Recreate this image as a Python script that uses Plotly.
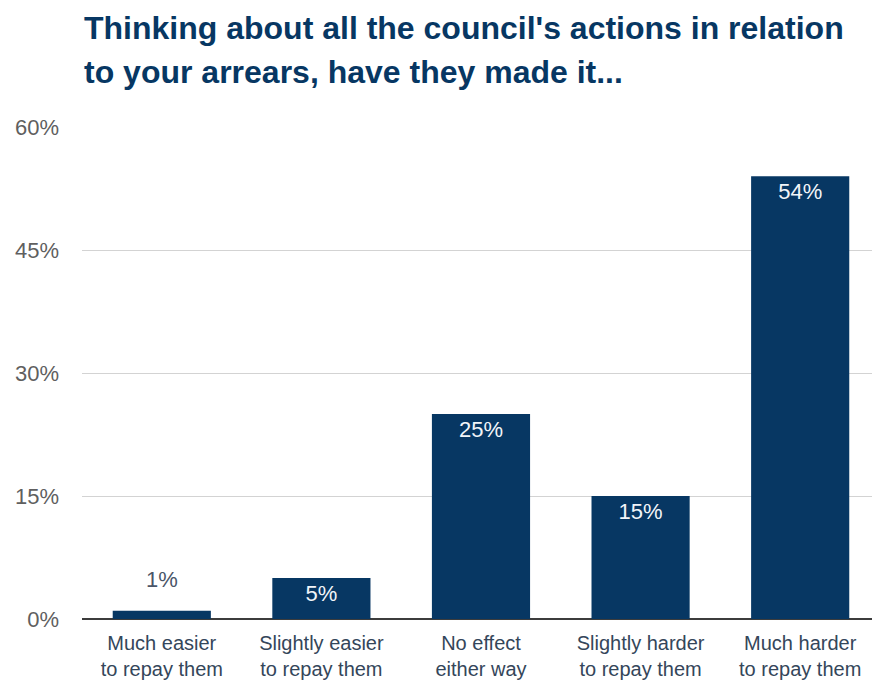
import plotly.graph_objects as go

categories = [
    "Much easier<br>to repay them",
    "Slightly easier<br>to repay them",
    "No effect<br>either way",
    "Slightly harder<br>to repay them",
    "Much harder<br>to repay them",
]
shares = [1, 5, 25, 15, 54]
y_ticks = [0, 15, 30, 45, 60]
title_lines = [
    "Thinking about all the council's actions in relation",
    "to your arrears, have they made it...",
]

NAVY = "#073763"
FONT = "Liberation Sans, Arial, sans-serif"

W, H = 872, 683
M_L, M_R, M_T, M_B = 82, 0, 127, 64
plot_h = H - M_T - M_B

# bars tall enough take their label inside, small ones get it above
inside = [v >= 3 for v in shares]

fig = go.Figure(
    go.Bar(
        x=list(range(len(categories))),
        y=shares,
        width=0.615,
        marker=dict(color=NAVY, line=dict(width=0)),
        text=[f"{v}%" if ins else "" for v, ins in zip(shares, inside)],
        textposition="inside",
        insidetextanchor="end",
        textangle=0,
        constraintext="none",
        insidetextfont=dict(color="#f2f5f9", size=22, family=FONT),
        hoverinfo="skip",
    )
)

for i, (v, ins) in enumerate(zip(shares, inside)):
    if not ins:
        fig.add_annotation(
            x=i, y=v, xref="x", yref="y",
            text=f"{v}%", showarrow=False,
            yanchor="bottom", yshift=17,
            font=dict(color="#4a5568", size=22, family=FONT),
        )

def px_to_paper(py):
    return (H - M_B - py) / plot_h

for line, py in zip(title_lines, [28, 72]):
    fig.add_annotation(
        x=0, y=px_to_paper(py), xref="paper", yref="paper",
        xanchor="left", yanchor="middle", showarrow=False,
        text=f"<b>{line}</b>",
        font=dict(color=NAVY, size=32, family=FONT),
    )

fig.update_layout(
    width=W, height=H,
    margin=dict(l=M_L, r=M_R, t=M_T, b=M_B, pad=0, autoexpand=False),
    paper_bgcolor="white",
    plot_bgcolor="white",
    showlegend=False,
    font=dict(family=FONT),
)

fig.update_xaxes(
    range=[-0.5, 4.45],
    tickmode="array",
    tickvals=list(range(len(categories))),
    ticktext=categories,
    tickfont=dict(size=20, color="#34465a", family=FONT),
    showgrid=False,
    showline=False,
    ticks="",
    zeroline=False,
    ticklabelstandoff=10,
    automargin=False,
)

fig.update_yaxes(
    range=[0, 60],
    tickvals=y_ticks,
    ticktext=[f"{t}%" for t in y_ticks],
    tickfont=dict(size=22, color="#5f5f5f", family=FONT),
    showgrid=True,
    gridcolor="#d3d3d3",
    gridwidth=1,
    zeroline=True,
    zerolinecolor="#3c3c3c",
    zerolinewidth=1.5,
    ticks="",
    ticklabelstandoff=22,
    showline=False,
    automargin=False,
)

fig.write_html("out.html")
